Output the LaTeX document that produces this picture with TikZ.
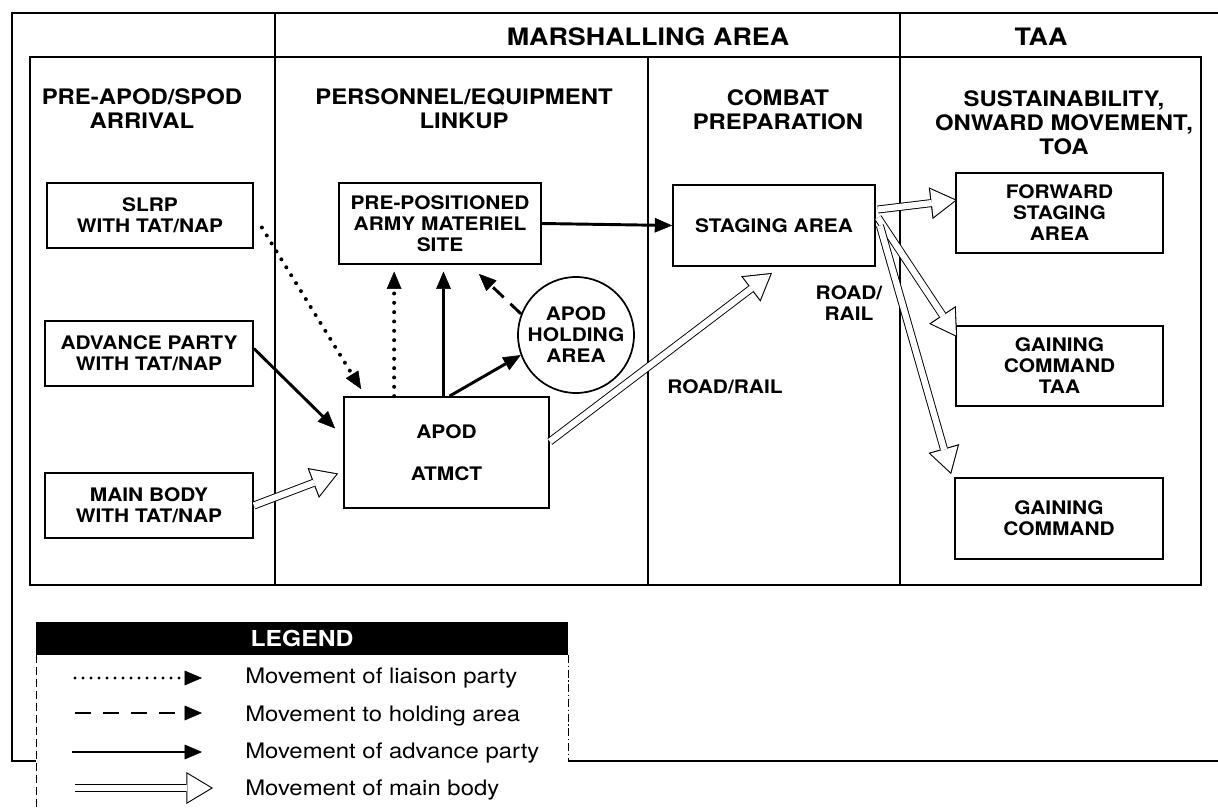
\documentclass[tikz,border=0pt]{standalone}
\usepackage{fontspec}
\setmainfont[FakeStretch=1.12]{TeX Gyre Heros}
\usetikzlibrary{arrows.meta,calc}

\newcommand{\boxtxt}{\bfseries\fontsize{14}{15.75}\selectfont}
\newcommand{\headtxt}{\bfseries\fontsize{16}{18}\selectfont}
\newcommand{\areatxt}{\bfseries\fontsize{18}{20}\selectfont}
\newcommand{\keytxt}{\fontsize{16}{18}\selectfont}

\tikzset{
  frameline/.style={line width=1.6pt},
  boxnode/.style={draw, line width=1.3pt, inner sep=0pt, align=center, font=\boxtxt},
  headnode/.style={align=center, font=\headtxt, inner sep=0pt},
  keynode/.style={anchor=west, font=\keytxt, inner sep=0pt},
  liaison/.style={line width=3pt, line cap=round, dash pattern=on 0pt off 7pt,
    -{Triangle[length=13pt,width=11pt,line width=0.4pt]}},
  holding/.style={line width=2.2pt, dash pattern=on 11pt off 7pt,
    -{Triangle[length=13pt,width=11pt,line width=0.4pt]}},
  advance/.style={line width=2.2pt, -{Triangle[length=13pt,width=11pt,line width=0.4pt]}},
  bodyout/.style={line width=6pt, -{Triangle[length=20pt,width=24pt,line width=0pt]}},
  bodyin/.style={white, line width=4.6pt, shorten >=1.55pt,
    -{Triangle[length=17.6pt,width=21.1pt,line width=0pt]}},
}
% open double arrow of the main body
\newcommand{\mainbody}[2]{\draw[bodyout] #1 -- #2; \draw[bodyin] #1 -- #2;}

\begin{document}
\begin{tikzpicture}[x=0.75pt,y=0.75pt,yscale=-1,xscale=1]
\useasboundingbox (0,0) rectangle (1218,810);

%Outer frame
\draw[frameline] (1218,13) -- (12,13) -- (12,761) -- (36,761);
\draw[frameline] (568,761) -- (1218,761);
%Inner frame
\draw[frameline] (30,57) rectangle (1201,585);
%Dividers
\draw[frameline] (275,13) -- (275,585);
\draw[frameline] (648,57) -- (648,585);
\draw[frameline] (900,13) -- (900,585);

% Text Node
\node[font=\areatxt] (marsh) at (648,37) {MARSHALLING AREA};
\node[font=\areatxt] (taa) at (1041,37) {TAA};
\node[headnode] (hpre) at (142,109) {PRE-APOD/SPOD\\ARRIVAL};
\node[headnode] (hlink) at (464,109) {PERSONNEL/EQUIPMENT\\LINKUP};
\node[headnode] (hcomb) at (778,110) {COMBAT\\PREPARATION};
\node[headnode] (hsus) at (1064,123) {SUSTAINABILITY,\\ONWARD MOVEMENT,\\TOA};

%Shape: Rectangle
\node[boxnode, minimum width=154.5pt, minimum height=48.75pt] (slrp) at (150,215.5) {SLRP\\WITH TAT/NAP};
\node[boxnode, minimum width=156pt, minimum height=48.75pt] (adv) at (149,353.5) {ADVANCE PARTY\\WITH TAT/NAP};
\node[boxnode, minimum width=156pt, minimum height=48.75pt] (mainb) at (149,505.5) {MAIN BODY\\WITH TAT/NAP};
\node[boxnode, minimum width=151.5pt, minimum height=60.75pt] (pams) at (440,223.5) {PRE-POSITIONED\\ARMY MATERIEL\\SITE};
\node[boxnode, minimum width=153.75pt, minimum height=83.25pt] (apod) at (446.5,452.5) {APOD\\[15.75pt]ATMCT};
\node[boxnode, minimum width=151.5pt, minimum height=60.75pt] (staging) at (774,225.5) {STAGING AREA};
\node[boxnode, minimum width=155.25pt, minimum height=60pt] (fsa) at (1059.5,213) {FORWARD\\STAGING\\AREA};
\node[boxnode, minimum width=155.25pt, minimum height=60pt] (gctaa) at (1059.5,366) {GAINING\\COMMAND\\TAA};
\node[boxnode, minimum width=156pt, minimum height=60.75pt] (gc) at (1059,518.5) {GAINING\\COMMAND};
%Shape: Circle
\node[boxnode, circle, minimum size=87pt] (hold) at (576,335) {APOD\\HOLDING\\AREA};

% Text Node
\node[font=\boxtxt, align=center] (rr1) at (849,303) {ROAD/\\RAIL};
\node[font=\boxtxt] (rr2) at (725,387) {ROAD/RAIL};

%Straight Lines
\draw[liaison] ($(slrp.east)+(8,12)$) -- ($(apod.north west)+(18,-7)$);
\coordinate (dotup) at ($(apod.north west)+(51,0)$);
\draw[liaison, shorten >=5pt] (dotup) -- (dotup |- pams.south);
\coordinate (advup) at ($(apod.north)+(-3,0)$);
\draw[advance, shorten >=5pt] (advup) -- (advup |- pams.south);
\draw[advance] ($(apod.north)+(3,0)$) -- (hold.200);
\draw[holding] (hold.159) -- ($(pams.south east)+(-63,9)$);
\draw[advance] ($(adv.east)+(0,-5)$) -- ($(apod.west)+(-8,-24)$);
\draw[advance] (pams.east) -- (staging.west);

%Open arrows
\mainbody{(mainb.east)}{($(apod.west)+(-5,21)$)}
\mainbody{($(apod.east)+(0,-11)$)}{($(staging.south)+(-2,6)$)}
\mainbody{($(staging.east)+(2,-16)$)}{($(fsa.west)+(2,-13)$)}
\mainbody{($(staging.east)+(2,-8)$)}{($(gctaa.north west)+(2,12)$)}
\mainbody{($(staging.east)+(4,0)$)}{($(gc.north west)+(-3,-3)$)}

%Legend
\fill (36,622) rectangle (568,655);
\node[font=\bfseries\fontsize{16.5}{18}\selectfont, text=white] (legend) at (302,638.5) {LEGEND};
\draw[line width=0.6pt, dash pattern=on 6pt off 3pt] (36,655) -- (36,810);
\draw[line width=0.6pt, dash pattern=on 6pt off 2pt on 1pt off 2pt] (568,655) -- (568,761);
\coordinate (k1a) at (75,678);  \coordinate (k1b) at (202,678);
\coordinate (k2a) at (75,713);  \coordinate (k2b) at (202,713);
\coordinate (k3a) at (72,752);  \coordinate (k3b) at (202,752);
\coordinate (k4a) at (75,788);  \coordinate (k4b) at (213,788);
\draw[liaison, line width=2.4pt, dash pattern=on 0pt off 6pt] (k1a) -- (k1b);
\draw[holding, dash pattern=on 12pt off 9pt] (k2a) -- (k2b);
\draw[advance] (k3a) -- (k3b);
\mainbody{(k4a)}{(k4b)}
\node[keynode] (k1) at (245,678) {Movement of liaison party};
\node[keynode] (k2) at (245,716) {Movement to holding area};
\node[keynode] (k3) at (245,753) {Movement of advance party};
\node[keynode] (k4) at (245,790) {Movement of main body};

\end{tikzpicture}
\end{document}
